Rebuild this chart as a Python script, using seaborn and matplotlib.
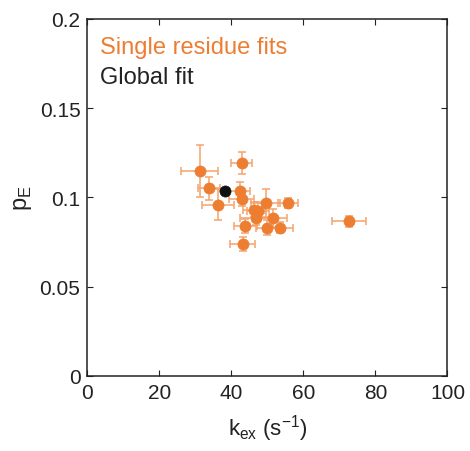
import matplotlib
matplotlib.use("Agg")
import matplotlib.pyplot as plt
import seaborn as sns
import pandas as pd

# Single residue fits
kex = [31.2, 42.9, 33.7, 42.3, 42.9, 36.3, 49.5, 55.7, 46.3, 47.4, 46.7, 51.6, 43.9, 49.8, 53.4, 72.6, 43.1]
pE = [0.1147, 0.1195, 0.1052, 0.1038, 0.0992, 0.0958, 0.0969, 0.0969, 0.0932, 0.0923, 0.0883, 0.0885, 0.0839, 0.0831, 0.0831, 0.0867, 0.0738]
kex_err = [5.1, 2.9, 3.0, 2.9, 3.5, 4.4, 4.0, 2.9, 3.0, 3.0, 4.2, 3.9, 3.3, 3.0, 3.6, 4.8, 3.5]
pE_err = [0.0144, 0.0062, 0.0065, 0.0047, 0.004, 0.0087, 0.008, 0.003, 0.004, 0.005, 0.004, 0.005, 0.004, 0.004, 0.003, 0.003, 0.004]

# Global fit
kex_global = [38.3]
pE_global = [0.1035]

x_ticks = [0, 20, 40, 60, 80, 100]
y_ticks = [0, 0.05, 0.1, 0.15, 0.2]
y_tick_labels = ["0", "0.05", "0.1", "0.15", "0.2"]

sns.set_style("ticks")
plt.rcParams['font.family'] = ['Liberation Sans', 'DejaVu Sans']
plt.rcParams['axes.unicode_minus'] = False

orange = "#ED7D31"
fig = plt.figure(figsize=(4.7, 4.52), dpi=100)
ax = fig.add_axes([0.186, 0.166, 0.766, 0.790])

ax.errorbar(kex, pE, xerr=kex_err, yerr=pE_err, fmt="none", ecolor="#F4A46E",
            elinewidth=1.1, capsize=2.8, capthick=1.1, zorder=2)

df = pd.DataFrame({"kex": kex, "pE": pE})
sns.scatterplot(data=df, x="kex", y="pE", color=orange, s=64, edgecolor=orange,
                linewidth=0.5, ax=ax, zorder=3)
dfg = pd.DataFrame({"kex": kex_global, "pE": pE_global})
sns.scatterplot(data=dfg, x="kex", y="pE", color="#111111", s=64, edgecolor="#111111",
                linewidth=0.5, ax=ax, zorder=4)

ax.set_xlim(0, 100)
ax.set_ylim(0, 0.2)
ax.set_xticks(x_ticks)
ax.set_xticklabels([str(t) for t in x_ticks])
ax.set_yticks(y_ticks)
ax.set_yticklabels(y_tick_labels)
ax.tick_params(direction="in", length=4, width=0.8, labelsize=15, top=True, right=True,
               colors="#222222", labelcolor="#222222", pad=5)
for s in ax.spines.values():
    s.set_visible(True)
    s.set_linewidth(1.1)
    s.set_color("#222222")

ax.set_xlabel("k$_{\\mathregular{ex}}$ (s$^{\\mathregular{-1}}$)", fontsize=16, color="#222222", labelpad=7)
ax.set_ylabel("p$_{\\mathregular{E}}$", fontsize=17, color="#222222", labelpad=4)

ax.text(0.036, 0.922, "Single residue fits", transform=ax.transAxes, color=orange,
        fontsize=17, va="center", ha="left")
ax.text(0.036, 0.838, "Global fit", transform=ax.transAxes, color="#222222",
        fontsize=17, va="center", ha="left")

fig.savefig("out.png", dpi=100)
